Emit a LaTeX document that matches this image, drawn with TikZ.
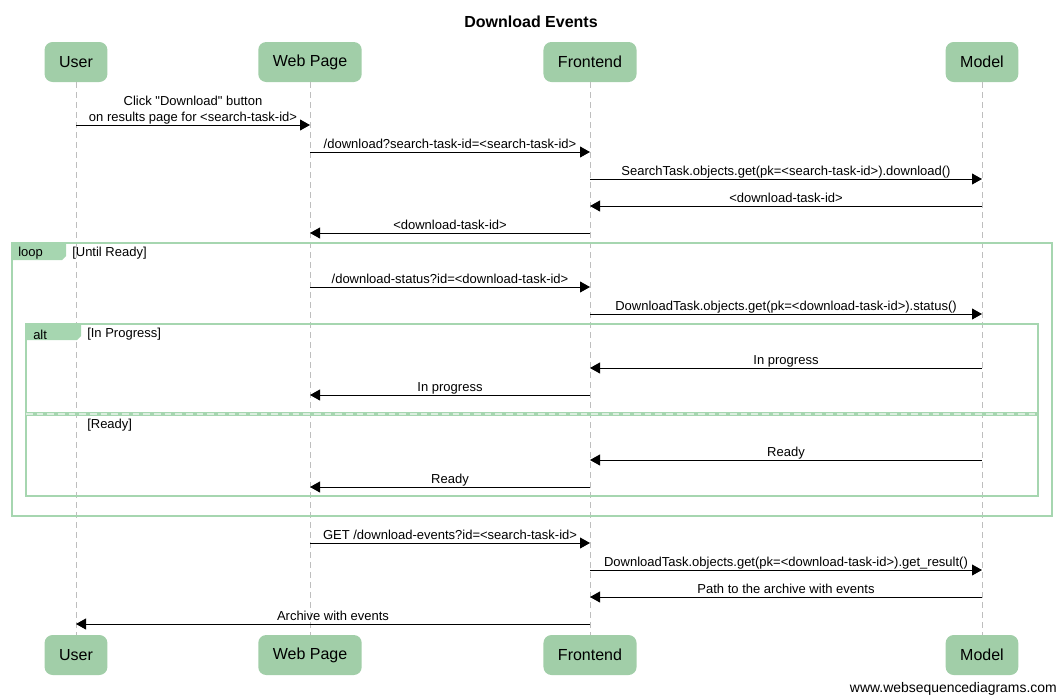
\documentclass[tikz,border=0pt]{standalone}
\usepackage{fontspec}
\setmainfont{Liberation Sans}
\usetikzlibrary{arrows.meta}
\definecolor{actorgreen}{RGB}{161,206,168}
\definecolor{framegreen}{RGB}{166,214,176}
\definecolor{lifegray}{RGB}{190,190,190}
\begin{document}
\begin{tikzpicture}[x=0.75pt,y=-0.75pt,
  actor/.style={fill=actorgreen,rounded corners=6pt,minimum height=30pt,inner xsep=10.9pt,
    font=\fontsize{12}{14}\selectfont},
  lifeline/.style={draw=lifegray,line width=0.75pt,dash pattern=on 4.5pt off 3pt},
  msg/.style={line width=0.75pt,-{Triangle[length=7.5pt,width=8.2pt]}},
  lbl/.style={midway,above,inner sep=0pt,text depth=0pt,yshift=1.9pt,
    font=\fontsize{9.75}{12}\selectfont,align=center},
  frame/.style={draw=framegreen,line width=2pt},
  txt/.style={anchor=west,inner sep=0pt,font=\fontsize{9.75}{12}\selectfont}]
\useasboundingbox (0,0) rectangle (1061,697);
\node[font=\fontsize{12}{14}\selectfont\bfseries] (title) at (531,22) {Download Events};
% participants
\node[actor] (user) at (76,62) {User};
\node[actor] (web) at (310,62) {Web Page};
\node[actor] (front) at (590,62) {Frontend};
\node[actor] (model) at (982,62) {Model};
\node[actor] (userb) at (76,655) {User};
\node[actor] (webb) at (310,655) {Web Page};
\node[actor] (frontb) at (590,655) {Frontend};
\node[actor] (modelb) at (982,655) {Model};
\draw[lifeline] (user) -- (userb);
\draw[lifeline] (web) -- (webb);
\draw[lifeline] (front) -- (frontb);
\draw[lifeline] (model) -- (modelb);
% frames
\draw[frame] (12,243) rectangle (1052,516);
\fill[framegreen] (12,243) -- (66,243) -- (66,256) -- (62,260) -- (12,260) -- cycle;
\node[txt] (loop) at (18,253.5) {loop};
\node[txt] (until) at (72,253.5) {[Until Ready]};
\draw[frame] (26,324) rectangle (1038,496);
\fill[framegreen] (26,324) -- (81,324) -- (81,336) -- (77,340) -- (26,340) -- cycle;
\node[txt] (alt) at (33,334.5) {alt};
\node[txt] (inprog) at (87,334.5) {[In Progress]};
\draw[framegreen,line width=2.6pt] (26,414) -- (1038,414);
\draw[white,opacity=0.6,line width=0.8pt,dash pattern=on 5pt off 3pt] (26,414) -- (1038,414);
\node[txt] (ready) at (87,425.5) {[Ready]};
% messages
\coordinate (m1) at (0,125);
\coordinate (m2) at (0,152);
\coordinate (m3) at (0,179);
\coordinate (m4) at (0,206);
\coordinate (m5) at (0,233);
\coordinate (m6) at (0,287);
\coordinate (m7) at (0,314);
\coordinate (m8) at (0,368);
\coordinate (m9) at (0,395);
\coordinate (m10) at (0,460);
\coordinate (m11) at (0,487);
\coordinate (m12) at (0,543);
\coordinate (m13) at (0,570);
\coordinate (m14) at (0,597);
\coordinate (m15) at (0,624);
\draw[msg] (user |- m1) -- (web |- m1) node[lbl] {Click \textquotedbl Download\textquotedbl{} button\\on results page for <search-task-id>};
\draw[msg] (web |- m2) -- (front |- m2) node[lbl] {/download?search-task-id=<search-task-id>};
\draw[msg] (front |- m3) -- (model |- m3) node[lbl] {SearchTask.objects.get(pk=<search-task-id>).download()};
\draw[msg] (model |- m4) -- (front |- m4) node[lbl] {<download-task-id>};
\draw[msg] (front |- m5) -- (web |- m5) node[lbl] {<download-task-id>};
\draw[msg] (web |- m6) -- (front |- m6) node[lbl] {/download-status?id=<download-task-id>};
\draw[msg] (front |- m7) -- (model |- m7) node[lbl] {DownloadTask.objects.get(pk=<download-task-id>).status()};
\draw[msg] (model |- m8) -- (front |- m8) node[lbl] {In progress};
\draw[msg] (front |- m9) -- (web |- m9) node[lbl] {In progress};
\draw[msg] (model |- m10) -- (front |- m10) node[lbl] {Ready};
\draw[msg] (front |- m11) -- (web |- m11) node[lbl] {Ready};
\draw[msg] (web |- m12) -- (front |- m12) node[lbl] {GET /download-events?id=<search-task-id>};
\draw[msg] (front |- m13) -- (model |- m13) node[lbl] {DownloadTask.objects.get(pk=<download-task-id>).get\_result()};
\draw[msg] (model |- m14) -- (front |- m14) node[lbl] {Path to the archive with events};
\draw[msg] (front |- m15) -- (user |- m15) node[lbl] {Archive with events};
\node[anchor=east,inner sep=0pt,font=\fontsize{10.45}{12}\selectfont] (wsd) at (1057,689) {www.websequencediagrams.com};
\end{tikzpicture}
\end{document}
